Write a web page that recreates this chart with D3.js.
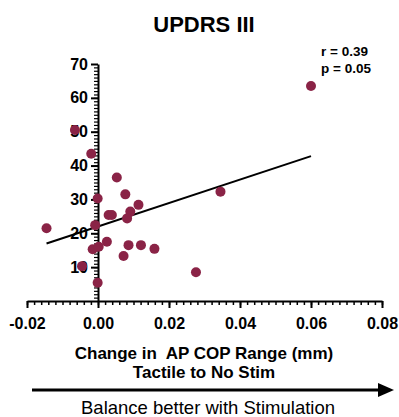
<!DOCTYPE html>
<html><head><meta charset="utf-8">
<script src="https://cdn.jsdelivr.net/npm/d3@7"></script>
<style>body{margin:0;background:#fff}svg{display:block}</style>
</head><body>
<svg id="c" width="399" height="417"></svg>
<script>
// Data
const xChange = [-0.0065,-0.0019,0.0053,-0.0001,0.0077,0.0114,0.0030,0.0039,0.0091,0.0082,-0.0008,-0.0145,0.0025,-0.0015,0.0002,0.0086,0.0121,0.0159,0.0072,-0.0045,-0.0001,0.0276,0.0345,0.0600];
const updrs   = [50.5,43.5,36.5,30.3,31.5,28.4,25.4,25.4,26.4,24.4,22.4,21.5,17.5,15.3,16.0,16.5,16.5,15.4,13.3,10.3,5.4,8.5,32.3,63.5];
const fitX = [-0.0145, 0.0600];
const fitY = [17.0, 42.8];
const xTicks = [-0.02,0.00,0.02,0.04,0.06,0.08];
const xTickLabels = ["-0.02","0.00","0.02","0.04","0.06","0.08"];
const yTicks = [10,20,30,40,50,60,70];
const stats = ["r = 0.39","p = 0.05"];

const svg = d3.select("#c");
const x = d3.scaleLinear().domain([-0.02,0.08]).range([27,382]);
const y = d3.scaleLinear().domain([0,70]).range([301,64]);
const font = "'Liberation Sans', Arial, sans-serif";

// title
svg.append("text").attr("x",204).attr("y",32).attr("text-anchor","middle")
  .attr("font-family",font).attr("font-weight","bold").attr("font-size",22).text("UPDRS III");

// x axis minor
const xMinor = d3.range(-0.02,0.0801,0.002).map(v=>+v.toFixed(3));
const gx = svg.append("g").attr("transform",`translate(0,${y(0)})`);
gx.append("g").call(d3.axisBottom(x).tickValues(xMinor).tickSize(4).tickFormat(""))
  .call(g=>g.select(".domain").remove())
  .selectAll("line").attr("stroke","#000").attr("stroke-width",1.5);
gx.append("g").call(d3.axisBottom(x).tickValues(xTicks).tickSize(7).tickSizeOuter(0).tickPadding(10)
    .tickFormat((d,i)=>xTickLabels[i]))
  .call(g=>g.select(".domain").attr("stroke","#000").attr("stroke-width",2))
  .call(g=>g.selectAll("line").attr("stroke","#000").attr("stroke-width",2))
  .call(g=>g.selectAll("text").attr("font-family",font).attr("font-weight","bold").attr("font-size",16).attr("fill","#000"));

// y axis
const yMinor = d3.range(1,70,1);
const gy = svg.append("g").attr("transform",`translate(${x(0)},0)`);
gy.append("g").call(d3.axisLeft(y).tickValues(yMinor).tickSize(4).tickFormat(""))
  .call(g=>g.select(".domain").remove())
  .selectAll("line").attr("stroke","#000").attr("stroke-width",1.2);
gy.append("g").call(d3.axisLeft(y).tickValues(yTicks).tickSize(7).tickSizeOuter(0).tickPadding(3))
  .call(g=>g.select(".domain").attr("stroke","#000").attr("stroke-width",2))
  .call(g=>g.selectAll("line").attr("stroke","#000").attr("stroke-width",2))
  .call(g=>g.selectAll("text").attr("font-family",font).attr("font-weight","bold").attr("font-size",16).attr("fill","#000"));

// fit line
svg.append("line").attr("x1",x(fitX[0])).attr("y1",y(fitY[0])).attr("x2",x(fitX[1])).attr("y2",y(fitY[1]))
  .attr("stroke","#000").attr("stroke-width",2);

// points
svg.append("g").selectAll("circle").data(xChange).join("circle")
  .attr("cx",(d)=>x(d)).attr("cy",(d,i)=>y(updrs[i])).attr("r",5).attr("fill","#8a2346");

// stats
svg.append("g").selectAll("text").data(stats).join("text")
  .attr("x",321).attr("y",(d,i)=>56+i*17).attr("font-family",font).attr("font-weight","bold").attr("font-size",13.5).text(d=>d);

// axis title
svg.append("text").attr("x",204).attr("y",359).attr("text-anchor","middle").style("white-space","pre")
  .attr("font-family",font).attr("font-weight","bold").attr("font-size",17).text("Change in  AP COP Range (mm)");
svg.append("text").attr("x",204).attr("y",378).attr("text-anchor","middle")
  .attr("font-family",font).attr("font-weight","bold").attr("font-size",17).text("Tactile to No Stim");

// arrow
svg.append("line").attr("x1",32).attr("y1",390).attr("x2",380).attr("y2",390).attr("stroke","#000").attr("stroke-width",3);
svg.append("path").attr("d","M378,383 L394,390 L378,397 Z").attr("fill","#000");

svg.append("text").attr("x",208).attr("y",414).attr("text-anchor","middle")
  .attr("font-family",font).attr("font-size",18.5).text("Balance better with Stimulation");
</script>
</body></html>
